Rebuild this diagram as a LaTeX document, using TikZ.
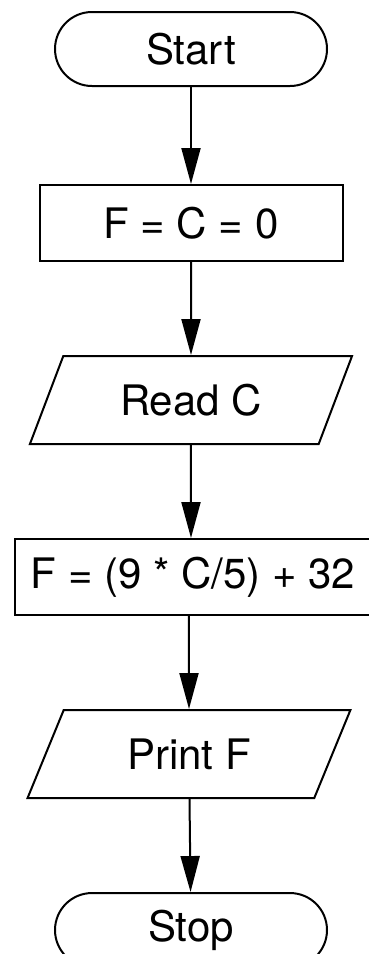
\documentclass[tikz,border=0pt]{standalone}
\usepackage{fontspec}
\setmainfont{TeX Gyre Heros}
\usepackage{tikz}
\usetikzlibrary{arrows.meta,positioning,shapes.geometric}
\tikzset{
  terminal/.style={draw=black, line width=2pt, rounded corners=37pt, minimum width=272pt, minimum height=74pt, inner sep=0pt, font=\fontsize{42}{50}\selectfont},
  procbox/.style={draw=black, line width=2pt, minimum height=76pt, inner sep=0pt, font=\fontsize{42}{50}\selectfont},
  iobox/.style={draw=black, line width=2pt, trapezium, trapezium left angle=60, trapezium right angle=120, trapezium stretches=true, minimum width=323pt, minimum height=88pt, inner sep=0pt, font=\fontsize{42}{50}\selectfont},
  arrow/.style={-{Triangle[length=36pt,width=19pt]}, line width=2pt}
}
\begin{document}
\begin{tikzpicture}[node distance=93pt]
\useasboundingbox (0,0) rectangle (369pt,-954pt);
\node[terminal] (start) at (191pt,-49pt) {Start};
\node[procbox, minimum width=303pt, below=97pt of start] (init) {F = C = 0};
\node[iobox, below=of init] (read) {Read C};
\node[procbox, minimum width=356pt, below=of read, xshift=2pt] (calc) {F = (9 * C/5) + 32};
\node[iobox, below=of calc, xshift=-4pt] (print) {Print F};
\node[terminal, below=of print, xshift=2pt] (stop) {Stop};
\draw[arrow] (start) -- (init);
\draw[arrow] (init) -- (read);
\draw[arrow] (read) -- (read |- calc.north);
\draw[arrow] (calc.south -| print) -- (print);
\draw[arrow] (print) -- (stop);
\end{tikzpicture}
\end{document}
